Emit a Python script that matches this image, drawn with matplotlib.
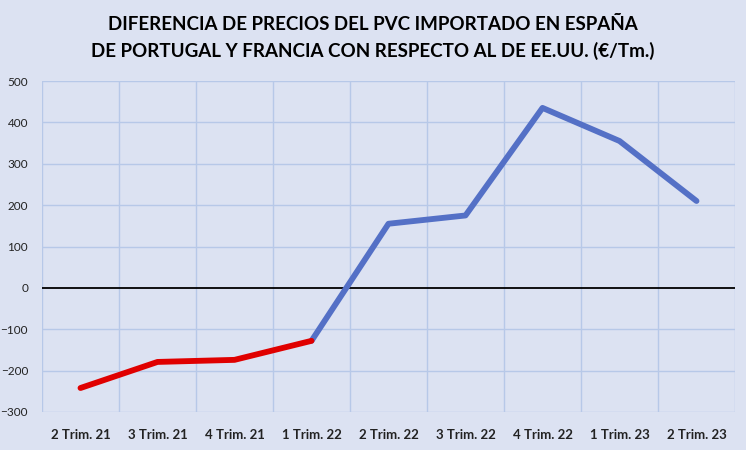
import matplotlib.pyplot as plt

# Datos
trimestres = ["2 Trim. 21", "3 Trim. 21", "4 Trim. 21", "1 Trim. 22", "2 Trim. 22",
              "3 Trim. 22", "4 Trim. 22", "1 Trim. 23", "2 Trim. 23"]
diferencia = [-242, -179, -174, -128, 155, 175, 435, 355, 210]
n_rojo = 4  # primeros trimestres en rojo

bg = "#DCE2F2"
grid_col = "#B7C8E8"

fig = plt.figure(figsize=(7.46, 4.5), dpi=100, facecolor=bg)
ax = fig.add_axes([42 / 746, 1 - 412 / 450, 693 / 746, 331 / 450])
ax.set_facecolor(bg)

x = list(range(len(trimestres)))
ax.plot(x[n_rojo - 1:], diferencia[n_rojo - 1:], color="#5470C6", lw=4.2,
        solid_capstyle="round", solid_joinstyle="round", zorder=3)
ax.plot(x[:n_rojo], diferencia[:n_rojo], color="#E00000", lw=4.2,
        solid_capstyle="round", solid_joinstyle="round", zorder=4)

ax.axhline(0, color="black", lw=1.3, zorder=2)

ax.set_xlim(-0.5, len(trimestres) - 0.5)
ax.set_ylim(-300, 500)
ax.set_yticks(range(-300, 501, 100))
ax.set_xticks(x)
ax.set_xticklabels(trimestres, fontweight="bold", fontsize=9.5, family="Lato")
for lbl in ax.get_yticklabels():
    lbl.set_family("Lato")
    lbl.set_fontsize(8.5)

# Rejilla: horizontales en cada 100, verticales entre categorías
for v in range(-300, 501, 100):
    if v != 0:
        ax.axhline(v, color=grid_col, lw=1, zorder=1)
for b in range(len(trimestres) + 1):
    ax.axvline(b - 0.5, color=grid_col, lw=1, zorder=1)

ax.tick_params(length=0, pad=12, colors="#222222")
ax.tick_params(axis="y", pad=10)
for s in ax.spines.values():
    s.set_visible(False)

fig.text(0.5, 1 - 24 / 450, "DIFERENCIA DE PRECIOS DEL PVC IMPORTADO EN ESPAÑA",
         ha="center", va="center", fontsize=13.5, fontweight="bold", family="Lato")
fig.text(0.5, 1 - 51 / 450, "DE PORTUGAL Y FRANCIA CON RESPECTO AL DE EE.UU. (€/Tm.)",
         ha="center", va="center", fontsize=13.5, fontweight="bold", family="Lato")

fig.savefig("out.png", dpi=100, facecolor=bg)
